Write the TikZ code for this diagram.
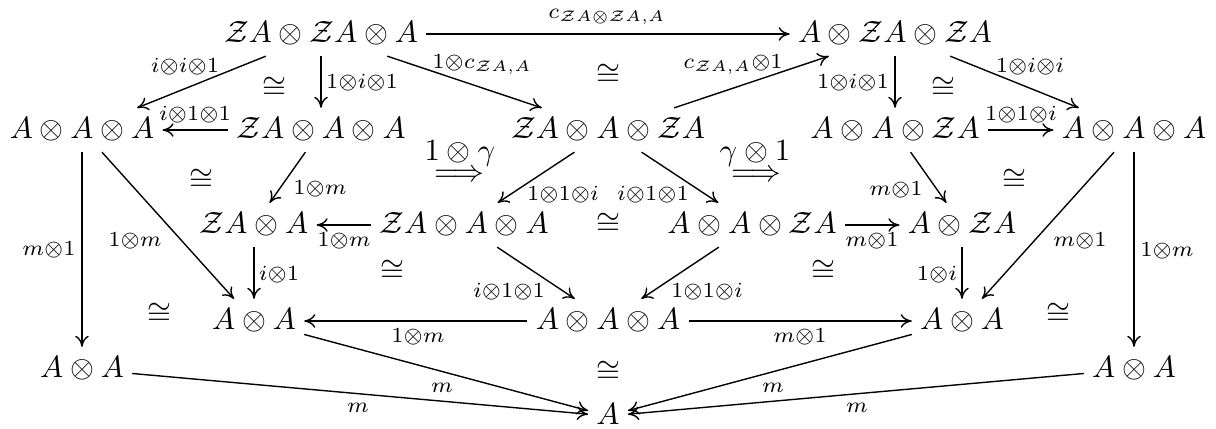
\documentclass[tikz,border=0pt]{standalone}
\usetikzlibrary{arrows.meta}
\tikzset{
  obj/.style={inner xsep=2.5pt, inner ysep=3pt, text height=6.9pt, text depth=1.1pt},
  lab/.style={inner sep=0pt, anchor=base},
  iso/.style={inner sep=0pt},
  arr/.style={line width=0.45pt, -{To[length=3.6pt,width=4.4pt]}},
}
\newcommand{\lz}{\mathcal{Z}}
\begin{document}
\begin{tikzpicture}[x=0.325pt,y=-0.325pt]
\useasboundingbox (0,0) rectangle (1216,428);
% objects
\node[obj] (a1) at (321,34) {$\lz A\otimes\lz A\otimes A$};
\node[obj] (a2) at (895,34) {$A\otimes\lz A\otimes\lz A$};
\node[obj] (b1) at (82,130) {$A\otimes A\otimes A$};
\node[obj] (b2) at (321,130) {$\lz A\otimes A\otimes A$};
\node[obj] (b3) at (608,130) {$\lz A\otimes A\otimes\lz A$};
\node[obj] (b4) at (895,130) {$A\otimes A\otimes\lz A$};
\node[obj] (b5) at (1134,130) {$A\otimes A\otimes A$};
\node[obj] (c1) at (254,225) {$\lz A\otimes A$};
\node[obj] (c2) at (464,225) {$\lz A\otimes A\otimes A$};
\node[obj] (c3) at (752,225) {$A\otimes A\otimes\lz A$};
\node[obj] (c4) at (962,225) {$A\otimes\lz A$};
\node[obj] (d1) at (254,321) {$A\otimes A$};
\node[obj] (d2) at (608,321) {$A\otimes A\otimes A$};
\node[obj] (d3) at (962,321) {$A\otimes A$};
\node[obj] (e1) at (82,369) {$A\otimes A$};
\node[obj] (e2) at (1134,369) {$A\otimes A$};
\node[obj] (f) at (608,416) {$A$};
% arrows
\draw[arr] (a1) -- (a2);
\draw[arr] (a1) -- (b1);
\draw[arr] (a1) -- (b2);
\draw[arr] (a1) -- (b3);
\draw[arr] (b3) -- (a2);
\draw[arr] (a2) -- (b4);
\draw[arr] (a2) -- (b5);
\draw[arr] (b2) -- (b1);
\draw[arr] (b4) -- (b5);
\draw[arr] (b2) -- (c1);
\draw[arr] (b1) -- (d1);
\draw[arr] (b1) -- (e1);
\draw[arr] (c2) -- (c1);
\draw[arr] (c1) -- (d1);
\draw[arr] (b3) -- (c2);
\draw[arr] (b3) -- (c3);
\draw[arr] (b4) -- (c4);
\draw[arr] (c3) -- (c4);
\draw[arr] (c4) -- (d3);
\draw[arr] (b5) -- (d3);
\draw[arr] (b5) -- (e2);
\draw[arr] (c2) -- (d2);
\draw[arr] (c3) -- (d2);
\draw[arr] (d2) -- (d1);
\draw[arr] (d2) -- (d3);
\draw[arr] (d1) -- (f);
\draw[arr] (e1) -- (f);
\draw[arr] (d3) -- (f);
\draw[arr] (e2) -- (f);
% labels
\node[lab] (l1) at (607,18.5) {$\scriptstyle c_{\lz A\otimes\lz A,A}$};
\node[lab] (l2) at (185,72) {$\scriptstyle i\otimes i\otimes 1$};
\node[lab] (l3) at (362,88) {$\scriptstyle 1\otimes i\otimes 1$};
\node[lab] (l4) at (482,68) {$\scriptstyle 1\otimes c_{\lz A,A}$};
\node[lab] (l5) at (733,68) {$\scriptstyle c_{\lz A,A}\otimes 1$};
\node[lab] (l6) at (853,88) {$\scriptstyle 1\otimes i\otimes 1$};
\node[lab] (l7) at (1030,72) {$\scriptstyle 1\otimes i\otimes i$};
\node[lab] (l8) at (195,120) {$\scriptstyle i\otimes 1\otimes 1$};
\node[lab] (l9) at (1021,120) {$\scriptstyle 1\otimes 1\otimes i$};
\node[lab] (l10) at (320,194) {$\scriptstyle 1\otimes m$};
\node[lab] (l11) at (135,246) {$\scriptstyle 1\otimes m$};
\node[lab] (l12) at (49,255) {$\scriptstyle m\otimes 1$};
\node[lab] (l13) at (344,246) {$\scriptstyle 1\otimes m$};
\node[lab] (l14) at (279,280) {$\scriptstyle i\otimes 1$};
\node[lab] (l15) at (563,200) {$\scriptstyle 1\otimes 1\otimes i$};
\node[lab] (l16) at (653,200) {$\scriptstyle i\otimes 1\otimes 1$};
\node[lab] (l17) at (896,195) {$\scriptstyle m\otimes 1$};
\node[lab] (l18) at (872,246) {$\scriptstyle m\otimes 1$};
\node[lab] (l19) at (937,280) {$\scriptstyle 1\otimes i$};
\node[lab] (l20) at (1080,246) {$\scriptstyle m\otimes 1$};
\node[lab] (l21) at (1167,256) {$\scriptstyle 1\otimes m$};
\node[lab] (l22) at (509,297) {$\scriptstyle i\otimes 1\otimes 1$};
\node[lab] (l23) at (707,297) {$\scriptstyle 1\otimes 1\otimes i$};
\node[lab] (l24) at (418,342) {$\scriptstyle 1\otimes m$};
\node[lab] (l25) at (800,342) {$\scriptstyle m\otimes 1$};
\node[lab] (l26) at (442,392) {$\scriptstyle m$};
\node[lab] (l27) at (358,412) {$\scriptstyle m$};
\node[lab] (l28) at (773,392) {$\scriptstyle m$};
\node[lab] (l29) at (857,412) {$\scriptstyle m$};
% 2-cells
\node[lab] (g1) at (460,160) {$1\otimes\gamma$};
\node[lab] (g1a) at (459,181.5) {$\Longrightarrow$};
\node[lab] (g2) at (755,160) {$\gamma\otimes 1$};
\node[lab] (g2a) at (756,181.5) {$\Longrightarrow$};
% isomorphism signs
\node[iso] (i1) at (274,88) {$\cong$};
\node[iso] (i2) at (201,180) {$\cong$};
\node[iso] (i3) at (608,75) {$\cong$};
\node[iso] (i4) at (943,88) {$\cong$};
\node[iso] (i5) at (1014,180) {$\cong$};
\node[iso] (i6) at (608,224) {$\cong$};
\node[iso] (i7) at (392,271) {$\cong$};
\node[iso] (i8) at (823,271) {$\cong$};
\node[iso] (i9) at (159,314) {$\cong$};
\node[iso] (i10) at (1058,314) {$\cong$};
\node[iso] (i11) at (608,372) {$\cong$};
\end{tikzpicture}
\end{document}
